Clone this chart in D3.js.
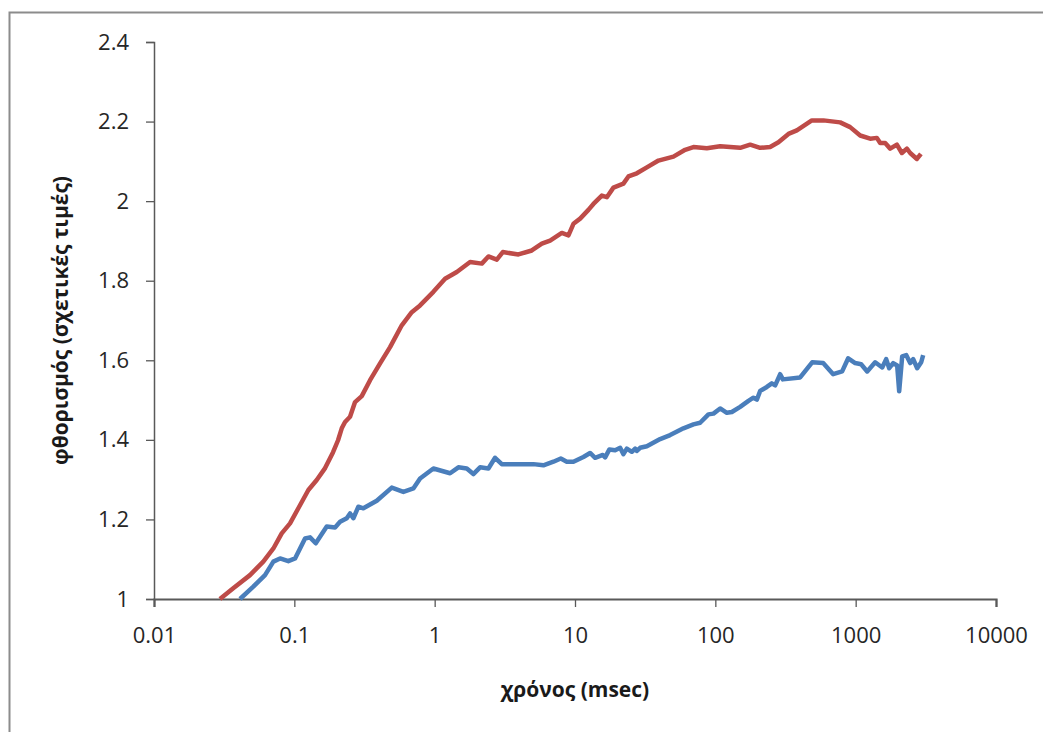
<!DOCTYPE html>
<html lang="el">
<head>
<meta charset="UTF-8">
<title>φθορισμός</title>
<script src="https://d3js.org/d3.v7.min.js"></script>
<style>
  body { margin: 0; background: #fff; }
  svg { display: block; font-family: "Open Sans", "Noto Sans", sans-serif; }
  .tick text { fill: #262626; }
</style>
</head>
<body>
<div id="chart"></div>
<script>
// time in msec
const redTime = [0.0295, 0.0367, 0.0483, 0.0601, 0.0709, 0.0813, 0.0932, 0.1068, 0.1259, 0.1444,
  0.1656, 0.1888, 0.2049, 0.2177, 0.2298, 0.2495, 0.2708, 0.3023, 0.3465, 0.4083,
  0.4811, 0.5829, 0.6868, 0.787, 0.979, 1.186, 1.438, 1.788, 2.167, 2.415,
  2.772, 3.059, 3.952, 4.922, 5.802, 6.646, 8.055, 8.98, 9.745, 10.88,
  12.46, 13.53, 15.53, 16.86, 18.79, 22.13, 24.03, 27.58, 32.51, 39.33,
  50.29, 60.93, 69.82, 87.01, 108.2, 127.5, 150.3, 177.1, 208.6, 245.8,
  281.7, 331.9, 380.9, 487.3, 589.5, 775.4, 913.2, 1077, 1269, 1416,
  1495, 1623, 1762, 1966, 2135, 2317, 2446, 2731, 2917];
const redValue = [1.0, 1.027, 1.06, 1.094, 1.127, 1.165, 1.19, 1.228, 1.274, 1.299,
  1.329, 1.369, 1.399, 1.429, 1.445, 1.458, 1.495, 1.51, 1.55, 1.592,
  1.633, 1.688, 1.721, 1.738, 1.772, 1.805, 1.822, 1.847, 1.843, 1.861,
  1.853, 1.872, 1.866, 1.876, 1.893, 1.901, 1.92, 1.914, 1.943, 1.956,
  1.978, 1.993, 2.014, 2.01, 2.034, 2.044, 2.062, 2.07, 2.085, 2.102,
  2.112, 2.129, 2.136, 2.133, 2.138, 2.136, 2.134, 2.142, 2.134, 2.136,
  2.148, 2.169, 2.178, 2.203, 2.203, 2.198, 2.186, 2.165, 2.157, 2.159,
  2.146, 2.146, 2.132, 2.142, 2.121, 2.132, 2.121, 2.106, 2.119];

const blueTime = [0.041, 0.051, 0.0618, 0.0709, 0.0791, 0.0906, 0.1012, 0.1192, 0.1294, 0.1421,
  0.1702, 0.1951, 0.2118, 0.2364, 0.2495, 0.2634, 0.286, 0.3104, 0.3867, 0.4947,
  0.5984, 0.7049, 0.787, 0.979, 1.288, 1.476, 1.694, 1.887, 2.106, 2.415,
  2.694, 3.008, 5.052, 5.954, 7.019, 7.922, 8.739, 9.745, 11.48, 12.81,
  13.91, 15.79, 16.4, 17.59, 19.32, 20.97, 22.13, 23.41, 25.41, 26.83,
  27.58, 29.12, 32.51, 40.43, 47.64, 59.26, 69.82, 77.95, 89.3, 96.94,
  108.2, 120.8, 131.1, 150.3, 172.2, 186.8, 197.6, 208.6, 232.9, 252.7,
  266.9, 289.8, 302.9, 402.2, 489.8, 586.7, 691.3, 801.1, 884.5, 991.7,
  1094, 1208, 1377, 1546, 1650, 1733, 1851, 1976, 2042, 2146,
  2291, 2446, 2570, 2744, 2931, 3027];
const blueValue = [1.0, 1.031, 1.06, 1.094, 1.102, 1.095, 1.102, 1.152, 1.155, 1.14,
  1.182, 1.18, 1.194, 1.203, 1.215, 1.203, 1.232, 1.228, 1.247, 1.28,
  1.269, 1.278, 1.303, 1.328, 1.316, 1.331, 1.328, 1.314, 1.331, 1.328,
  1.355, 1.339, 1.339, 1.336, 1.345, 1.353, 1.345, 1.345, 1.357, 1.367,
  1.355, 1.362, 1.356, 1.376, 1.374, 1.38, 1.364, 1.378, 1.37, 1.378,
  1.372, 1.38, 1.384, 1.402, 1.412, 1.429, 1.439, 1.443, 1.464, 1.466,
  1.479, 1.468, 1.47, 1.483, 1.498, 1.506, 1.501, 1.523, 1.533, 1.542,
  1.537, 1.565, 1.552, 1.557, 1.595, 1.593, 1.565, 1.572, 1.605, 1.593,
  1.59, 1.572, 1.595, 1.582, 1.603, 1.58, 1.593, 1.587, 1.522, 1.61,
  1.613, 1.593, 1.603, 1.58, 1.595, 1.613];

const xTicks = [0.01, 0.1, 1, 10, 100, 1000, 10000];
const yTicks = [1, 1.2, 1.4, 1.6, 1.8, 2, 2.2, 2.4];
const xTitle = "χρόνος (msec)";
const yTitle = "φθορισμός (σχετικές τιμές)";

const W = 1043, H = 732;
const margin = { top: 42, right: 47, bottom: 133, left: 154 };
const width = W - margin.left - margin.right;
const height = H - margin.top - margin.bottom;

const svg = d3.select("#chart").append("svg")
  .attr("width", W)
  .attr("height", H);

// outer frame (only left and top edges are inside the picture)
svg.append("path")
  .attr("d", "M9.5," + H + "V12.5H" + W)
  .attr("fill", "none")
  .attr("stroke", "#8c8c8c")
  .attr("stroke-width", 2);

const g = svg.append("g")
  .attr("transform", "translate(" + margin.left + "," + margin.top + ")");

const x = d3.scaleLog().domain([0.01, 10000]).range([0, width]);
const y = d3.scaleLinear().domain([1, 2.4]).range([height, 0]);

const xAxis = g.append("g")
  .attr("transform", "translate(0," + height + ")")
  .call(d3.axisBottom(x).tickValues(xTicks).tickSize(8).tickPadding(20)
    .tickFormat(d => String(d)));

const yAxis = g.append("g")
  .call(d3.axisLeft(y).tickValues(yTicks).tickSize(8).tickPadding(17)
    .tickFormat(d => String(+d.toFixed(1))));

[xAxis, yAxis].forEach(a => {
  a.selectAll(".domain").attr("stroke", "#595959").attr("stroke-width", 1.5);
  a.selectAll(".tick line").attr("stroke", "#595959").attr("stroke-width", 1.3);
  a.selectAll(".tick text").attr("font-size", 22).attr("font-family", "Open Sans");
});
xAxis.select(".domain").attr("stroke-width", 2.2);

const line = d3.line()
  .x(d => x(d.t))
  .y(d => y(d.v));

const red = redTime.map((t, i) => ({ t: t, v: redValue[i] }));
const blue = blueTime.map((t, i) => ({ t: t, v: blueValue[i] }));

g.append("path")
  .datum(blue)
  .attr("fill", "none")
  .attr("stroke", "#4a7ebb")
  .attr("stroke-width", 4.5)
  .attr("stroke-linejoin", "round")
  .attr("d", line);

g.append("path")
  .datum(red)
  .attr("fill", "none")
  .attr("stroke", "#be4b48")
  .attr("stroke-width", 4.5)
  .attr("stroke-linejoin", "round")
  .attr("d", line);

g.append("text")
  .attr("x", width / 2)
  .attr("y", height + 98)
  .attr("text-anchor", "middle")
  .attr("font-size", 21)
  .attr("font-weight", "bold")
  .attr("fill", "#1a1a1a")
  .text(xTitle);

g.append("text")
  .attr("transform", "translate(-86," + (height / 2) + ") rotate(-90)")
  .attr("text-anchor", "middle")
  .attr("font-size", 21)
  .attr("font-weight", "bold")
  .attr("fill", "#1a1a1a")
  .text(yTitle);
</script>
</body>
</html>
